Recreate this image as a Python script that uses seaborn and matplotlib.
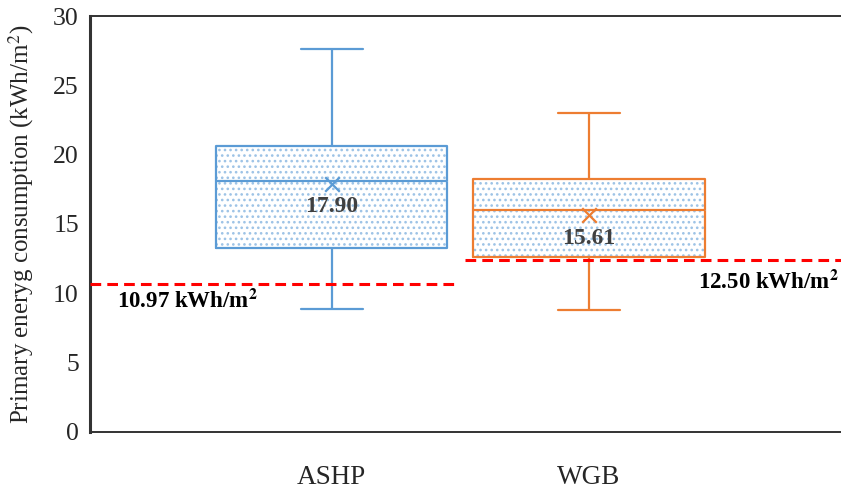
import numpy as np
import pandas as pd
import matplotlib
matplotlib.use("Agg")
import matplotlib.pyplot as plt
import seaborn as sns

# ---- data ----
categories = ["ASHP", "WGB"]
ashp_values = [8.9, 13.3, 18.1, 20.6, 27.6]   # min, Q1, median, Q3, max
wgb_values = [8.8, 12.6, 16.0, 18.25, 23.0]
means = [17.90, 15.61]
mean_labels = ["17.90", "15.61"]
ref_lines = [10.7, 12.4]
ref_labels = ["10.97 kWh/m$^{\\mathbf{2}}$", "12.50 kWh/m$^{\\mathbf{2}}$"]
yticks = [0, 5, 10, 15, 20, 25, 30]

colors = ["#5B9BD5", "#ED7D31"]
hatch_color = "#9DC3E6"

df = pd.DataFrame({
    "system": [categories[0]] * len(ashp_values) + [categories[1]] * len(wgb_values),
    "value": ashp_values + wgb_values,
})

sns.set_style("white")
plt.rcParams["font.family"] = ["Liberation Serif", "DejaVu Serif"]
plt.rcParams["mathtext.fontset"] = "stix"
plt.rcParams["hatch.linewidth"] = 1.1

fig = plt.figure(figsize=(8.41, 4.93), dpi=100)
ax = fig.add_axes([0.107, 0.124, 0.893, 0.8435])

# hatched fill layer
sns.boxplot(data=df, x="system", y="value", order=categories, color="white",
            linecolor=hatch_color, linewidth=0.5, width=0.9, whis=np.inf,
            showcaps=False, ax=ax)
for p in ax.patches:
    p.set_hatch("...")
    p.set_edgecolor(hatch_color)
    p.set_linewidth(0)

# outline layer
sns.boxplot(data=df, x="system", y="value", order=categories, hue="system",
            hue_order=categories, palette=colors, fill=False, linewidth=1.6,
            width=0.9, whis=np.inf, legend=False, ax=ax, capwidths=0.24)

# mean markers and labels
for i, (m, lab, c) in enumerate(zip(means, mean_labels, colors)):
    ax.scatter([i], [m], marker="x", s=110, color=c, linewidths=1.6, zorder=5)
    ax.text(i, m - 1.65, lab, ha="center", va="center", fontsize=17,
            fontweight="bold", color="#404040", zorder=6)

# reference lines
ax.plot([-0.94, 0.49], [ref_lines[0]] * 2, color="#FF0000", ls=(0, (3.5, 2)), lw=2.2, zorder=4)
ax.plot([0.52, 1.98], [ref_lines[1]] * 2, color="#FF0000", ls=(0, (3.5, 2)), lw=2.2, zorder=4)
ax.text(-0.835, ref_lines[0] - 1.3, ref_labels[0], ha="left", va="center",
        fontsize=16.5, fontweight="bold", color="black")
ax.text(1.97, ref_lines[1] - 1.6, ref_labels[1], ha="right", va="center",
        fontsize=16.5, fontweight="bold", color="black")

ax.set_xlim(-0.94, 1.98)
ax.set_ylim(0, 30)
ax.set_yticks(yticks)
ax.tick_params(axis="y", direction="in", length=5, labelsize=18.5, color="#404040", pad=8)
ax.tick_params(axis="x", length=0, labelsize=19.5, pad=24)
ax.set_xlabel("")
ax.set_ylabel("Primary eneryg consumption (kWh/m$^2$)", fontsize=18, labelpad=12)

for s in ["left", "bottom", "top"]:
    ax.spines[s].set_visible(True)
    ax.spines[s].set_color("#333333")
ax.spines["left"].set_linewidth(2.2)
ax.spines["bottom"].set_linewidth(1.4)
ax.spines["top"].set_linewidth(1.4)
ax.spines["right"].set_visible(False)

fig.savefig("out.png", dpi=100)
